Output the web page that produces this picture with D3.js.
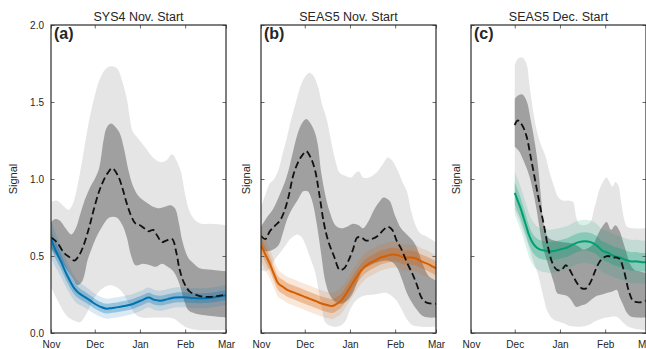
<!DOCTYPE html>
<html>
<head>
<meta charset="utf-8">
<script src="https://cdn.jsdelivr.net/npm/d3@7"></script>
<style>
  body { margin: 0; background: #fff; }
  svg { display: block; }
  text { font-family: "Liberation Sans", Arial, sans-serif; fill: #262626; }
</style>
</head>
<body>
<svg id="chart" width="646" height="349"></svg>
<script>
// ---- Panel labels, titles, ticks ----
const titles = ["SYS4 Nov. Start", "SEAS5 Nov. Start", "SEAS5 Dec. Start"];
const panelTags = ["(a)", "(b)", "(c)"];
const yTicks = [0.0, 0.5, 1.0, 1.5, 2.0];
const yLabel = "Signal";

// ---- Observed signal (day since 1 Nov, value): mean, inner band, outer band ----
const obsMeanA = [[0,0.62],[4,0.59],[9,0.52],[13,0.49],[16,0.47],[19,0.50],[22,0.56],[26,0.68],[29,0.79],[33,0.92],[36,0.99],[39,1.04],[42,1.07],[46,1.02],[49,0.94],[52,0.84],[55,0.76],[58,0.71],[61,0.70],[64,0.68],[67,0.66],[70,0.67],[73,0.63],[76,0.59],[79,0.60],[83,0.61],[86,0.52],[88,0.42],[91,0.33],[95,0.27],[99,0.25],[104,0.236],[109,0.235],[114,0.24],[117,0.245],[120,0.25]];
const obsInnerHiA = [[0,0.72],[3,0.74],[6,0.73],[10,0.68],[14,0.64],[17,0.68],[20,0.77],[23,0.86],[27,0.95],[30,1.0],[33,1.07],[36,1.25],[38,1.33],[41,1.36],[44,1.34],[47,1.30],[50,1.20],[53,1.06],[56,0.96],[60,0.89],[65,0.85],[70,0.82],[74,0.81],[78,0.82],[82,0.83],[85,0.81],[88,0.70],[90,0.60],[94,0.49],[98,0.45],[102,0.42],[110,0.41],[120,0.40]];
const obsInnerLoA = [[0,0.55],[4,0.50],[8,0.45],[11,0.41],[15,0.35],[18,0.31],[21,0.33],[23,0.38],[25,0.47],[28,0.55],[31,0.62],[35,0.69],[40,0.75],[45,0.75],[49,0.70],[52,0.62],[55,0.50],[58,0.44],[63,0.45],[68,0.44],[72,0.43],[76,0.45],[80,0.43],[84,0.40],[88,0.32],[91,0.22],[94,0.15],[98,0.13],[102,0.12],[110,0.11],[120,0.10]];
const obsOuterHiA = [[0,0.85],[4,0.86],[8,0.83],[12,0.80],[15,0.84],[18,0.95],[21,1.10],[24,1.27],[27,1.42],[30,1.54],[33,1.64],[37,1.71],[40,1.73],[43,1.73],[46,1.71],[49,1.63],[52,1.52],[54,1.40],[56,1.31],[60,1.26],[65,1.20],[70,1.14],[75,1.11],[79,1.12],[83,1.16],[86,1.12],[89,1.05],[92,0.90],[95,0.79],[99,0.73],[103,0.71],[110,0.71],[120,0.70]];
const obsOuterLoA = [[0,0.30],[4,0.22],[8,0.15],[12,0.10],[16,0.08],[20,0.07],[24,0.12],[28,0.20],[32,0.26],[37,0.30],[41,0.31],[46,0.29],[50,0.25],[54,0.18],[58,0.12],[62,0.10],[70,0.10],[80,0.10],[85,0.09],[89,0.06],[93,0.035],[100,0.02],[120,0.02]];

const obsMeanB = [[0,0.63],[3,0.61],[6,0.66],[10,0.70],[13,0.73],[16,0.79],[19,0.89],[22,1.02],[25,1.10],[28,1.15],[31,1.18],[34,1.14],[37,1.06],[40,0.90],[43,0.72],[46,0.60],[50,0.50],[54,0.41],[57,0.42],[60,0.47],[63,0.54],[66,0.62],[69,0.62],[72,0.60],[76,0.61],[80,0.63],[84,0.67],[87,0.69],[90,0.67],[93,0.60],[96,0.55],[100,0.46],[104,0.38],[107,0.31],[110,0.23],[113,0.20],[117,0.19],[120,0.19]];
const obsInnerHiB = [[0,0.69],[4,0.75],[8,0.80],[12,0.88],[16,0.97],[19,1.06],[22,1.18],[25,1.29],[28,1.36],[31,1.39],[34,1.36],[37,1.30],[39,1.22],[41,1.06],[44,0.90],[47,0.79],[51,0.70],[55,0.68],[59,0.69],[63,0.71],[67,0.70],[70,0.68],[74,0.73],[77,0.79],[81,0.85],[84,0.88],[88,0.86],[92,0.76],[96,0.68],[100,0.64],[104,0.60],[107,0.55],[110,0.47],[113,0.40],[116,0.36],[120,0.34]];
const obsInnerLoB = [[0,0.54],[4,0.53],[8,0.54],[12,0.57],[15,0.65],[18,0.74],[21,0.80],[25,0.86],[29,0.92],[32,0.92],[35,0.86],[38,0.72],[41,0.53],[44,0.34],[47,0.25],[50,0.21],[55,0.19],[59,0.21],[63,0.26],[66,0.33],[70,0.41],[75,0.44],[80,0.46],[86,0.47],[90,0.46],[93,0.43],[97,0.34],[100,0.26],[104,0.19],[107,0.15],[111,0.11],[115,0.10],[120,0.10]];
const obsOuterHiB = [[0,0.82],[3,0.90],[6,0.97],[9,1.0],[12,1.06],[15,1.17],[18,1.28],[21,1.40],[24,1.50],[27,1.60],[30,1.66],[33,1.69],[36,1.67],[39,1.60],[42,1.48],[45,1.39],[48,1.25],[51,1.12],[54,1.04],[58,1.02],[62,1.01],[65,1.04],[67,1.05],[70,1.01],[74,1.01],[79,1.04],[83,1.09],[87,1.14],[90,1.12],[94,1.05],[97,0.98],[100,0.92],[103,0.79],[106,0.70],[109,0.65],[113,0.63],[120,0.59]];
const obsOuterLoB = [[0,0.41],[3,0.40],[6,0.42],[9,0.47],[13,0.52],[17,0.57],[20,0.61],[25,0.64],[28,0.62],[31,0.56],[34,0.48],[37,0.40],[40,0.25],[42,0.15],[44,0.07],[48,0.045],[52,0.04],[55,0.05],[58,0.08],[61,0.15],[65,0.21],[70,0.24],[78,0.25],[86,0.26],[92,0.22],[96,0.16],[100,0.09],[104,0.05],[110,0.04],[120,0.04]];

const obsMeanC = [[30,1.35],[32,1.38],[35,1.35],[38,1.28],[41,1.14],[44,0.99],[47,0.84],[50,0.70],[53,0.55],[56,0.45],[59,0.41],[62,0.41],[65,0.44],[67,0.42],[70,0.37],[73,0.32],[76,0.29],[79,0.29],[82,0.33],[85,0.40],[88,0.46],[91,0.49],[94,0.50],[97,0.49],[100,0.49],[102,0.48],[105,0.40],[108,0.28],[111,0.21],[114,0.20],[117,0.20],[120,0.21]];
const obsInnerHiC = [[30,1.52],[32,1.54],[35,1.55],[38,1.51],[41,1.38],[44,1.22],[46,1.08],[48,0.88],[50,0.70],[53,0.62],[57,0.60],[63,0.59],[70,0.58],[74,0.56],[77,0.54],[80,0.55],[84,0.58],[87,0.64],[90,0.69],[93,0.72],[96,0.67],[99,0.70],[102,0.66],[104,0.60],[106,0.54],[109,0.45],[112,0.41],[116,0.40],[120,0.39]];
const obsInnerLoC = [[30,1.21],[33,1.18],[36,1.12],[40,1.02],[43,0.90],[45,0.80],[47,0.68],[49,0.57],[52,0.47],[54,0.41],[57,0.32],[59,0.26],[62,0.25],[66,0.24],[69,0.21],[72,0.17],[76,0.18],[79,0.19],[83,0.22],[86,0.24],[90,0.25],[93,0.26],[97,0.27],[100,0.28],[102,0.23],[104,0.19],[107,0.13],[110,0.105],[114,0.10],[120,0.10]];
const obsOuterHiC = [[30,1.74],[32,1.78],[35,1.79],[38,1.75],[40,1.62],[42,1.48],[45,1.32],[48,1.22],[51,1.15],[54,1.04],[57,0.95],[60,0.88],[63,0.86],[67,0.86],[70,0.85],[72,0.76],[74,0.71],[78,0.70],[82,0.72],[84,0.79],[86,0.86],[88,0.93],[91,0.99],[93,1.01],[95,0.98],[97,0.95],[99,0.98],[101,0.96],[103,0.85],[105,0.74],[107,0.69],[112,0.68],[120,0.68]];
const obsOuterLoC = [[30,0.80],[33,0.74],[36,0.66],[40,0.55],[43,0.46],[46,0.38],[48,0.30],[50,0.22],[52,0.15],[55,0.10],[57,0.085],[63,0.065],[68,0.045],[74,0.04],[80,0.05],[86,0.08],[93,0.10],[100,0.105],[104,0.07],[108,0.04],[114,0.025],[120,0.02]];

// ---- Model ensemble signal: days, mean, half-widths of inner and outer bands ----
const modelDaysA = [0,3,7,11,16,19,23,27,30,34,38,42,46,50,55,59,63,67,71,75,80,85,90,96,102,108,114,120];
const modelMeanA = [0.61,0.54,0.46,0.375,0.29,0.26,0.235,0.21,0.19,0.17,0.158,0.163,0.168,0.175,0.185,0.20,0.215,0.23,0.215,0.21,0.22,0.23,0.232,0.228,0.225,0.228,0.235,0.245];
const modelInnerA = [0.06,0.055,0.05,0.045,0.04,0.036,0.034,0.033,0.033,0.032,0.032,0.032,0.032,0.032,0.032,0.032,0.032,0.032,0.032,0.032,0.032,0.032,0.032,0.032,0.032,0.032,0.032,0.032];
const modelOuterA = [0.12,0.11,0.10,0.09,0.08,0.075,0.07,0.068,0.066,0.065,0.065,0.065,0.065,0.065,0.065,0.065,0.065,0.065,0.065,0.065,0.065,0.065,0.065,0.065,0.065,0.065,0.065,0.065];

const modelDaysB = [0,3,6,9,12,15,18,22,26,30,34,38,42,46,49,52,55,58,62,66,70,74,78,82,86,90,94,98,102,106,110,114,117,120];
const modelMeanB = [0.57,0.51,0.45,0.38,0.32,0.30,0.28,0.265,0.25,0.235,0.22,0.205,0.19,0.18,0.175,0.19,0.21,0.25,0.31,0.37,0.42,0.45,0.47,0.49,0.50,0.51,0.505,0.49,0.49,0.485,0.465,0.45,0.435,0.42];
const modelInnerB = [0.05,0.05,0.048,0.046,0.045,0.045,0.045,0.045,0.045,0.045,0.045,0.045,0.045,0.045,0.045,0.045,0.045,0.045,0.045,0.045,0.045,0.045,0.045,0.045,0.045,0.045,0.045,0.045,0.045,0.045,0.045,0.045,0.045,0.045];
const modelOuterB = [0.10,0.10,0.095,0.09,0.088,0.085,0.085,0.085,0.085,0.085,0.085,0.085,0.085,0.085,0.085,0.085,0.085,0.085,0.085,0.085,0.085,0.085,0.085,0.085,0.085,0.085,0.085,0.085,0.085,0.085,0.085,0.085,0.085,0.085];

const modelDaysC = [30,32,34,36,38,40,42,45,48,51,54,58,62,66,70,74,78,82,86,90,94,98,102,106,110,114,117,120];
const modelMeanC = [0.91,0.86,0.81,0.75,0.69,0.63,0.59,0.555,0.54,0.535,0.53,0.535,0.545,0.555,0.575,0.59,0.595,0.59,0.57,0.535,0.52,0.50,0.49,0.475,0.465,0.465,0.46,0.46];
const modelInnerC = [0.07,0.07,0.068,0.066,0.064,0.062,0.06,0.06,0.06,0.06,0.06,0.06,0.06,0.06,0.06,0.06,0.06,0.06,0.06,0.06,0.06,0.06,0.06,0.06,0.06,0.06,0.06,0.06];
const modelOuterC = [0.14,0.14,0.14,0.14,0.14,0.14,0.14,0.14,0.14,0.14,0.14,0.14,0.14,0.14,0.14,0.14,0.14,0.14,0.14,0.14,0.14,0.14,0.14,0.14,0.14,0.14,0.14,0.14];

const modelColors = ["#0072B2", "#D55E00", "#009E73"];

// ---- Layout ----
const panelLeft = [51, 261, 471];
const panelTop = 25, panelW = 175, panelH = 308;

const panels = [
  { obs: [obsMeanA, obsInnerHiA, obsInnerLoA, obsOuterHiA, obsOuterLoA], days: modelDaysA, mean: modelMeanA, inner: modelInnerA, outer: modelOuterA },
  { obs: [obsMeanB, obsInnerHiB, obsInnerLoB, obsOuterHiB, obsOuterLoB], days: modelDaysB, mean: modelMeanB, inner: modelInnerB, outer: modelOuterB },
  { obs: [obsMeanC, obsInnerHiC, obsInnerLoC, obsOuterHiC, obsOuterLoC], days: modelDaysC, mean: modelMeanC, inner: modelInnerC, outer: modelOuterC }
];

const origin = Date.UTC(2000, 10, 1);
const toDate = d => new Date(origin + d * 864e5);

const x = d3.scaleUtc().domain([toDate(0), toDate(120)]).range([0, panelW]);
const y = d3.scaleLinear().domain([0, 2]).range([panelH, 0]);

const line = d3.line()
  .x(p => x(toDate(p[0])))
  .y(p => y(p[1]))
  .curve(d3.curveCatmullRom.alpha(0.5));

function bandPath(hi, lo) {
  return line(hi) + "L" + line(lo.slice().reverse()).slice(1) + "Z";
}

const svg = d3.select("#chart");

panels.forEach((p, i) => {
  const g = svg.append("g").attr("transform", `translate(${panelLeft[i]},${panelTop})`);

  g.append("clipPath").attr("id", "clip" + i)
    .append("rect").attr("width", panelW).attr("height", panelH);

  const plot = g.append("g").attr("clip-path", `url(#clip${i})`);
  const [oMean, oInHi, oInLo, oOutHi, oOutLo] = p.obs;

  // observed spread
  plot.append("path").attr("d", bandPath(oOutHi, oOutLo)).attr("fill", "#000").attr("fill-opacity", 0.1);
  plot.append("path").attr("d", bandPath(oInHi, oInLo)).attr("fill", "#000").attr("fill-opacity", 0.3);

  // model spread
  const hiOuter = p.days.map((d, k) => [d, p.mean[k] + p.outer[k]]);
  const loOuter = p.days.map((d, k) => [d, p.mean[k] - p.outer[k]]);
  const hiInner = p.days.map((d, k) => [d, p.mean[k] + p.inner[k]]);
  const loInner = p.days.map((d, k) => [d, p.mean[k] - p.inner[k]]);
  const col = modelColors[i];
  plot.append("path").attr("d", bandPath(hiOuter, loOuter)).attr("fill", col).attr("fill-opacity", 0.15);
  plot.append("path").attr("d", bandPath(hiInner, loInner)).attr("fill", col).attr("fill-opacity", 0.3);

  // model mean
  plot.append("path").attr("d", line(p.days.map((d, k) => [d, p.mean[k]])))
    .attr("fill", "none").attr("stroke", col).attr("stroke-width", 2);

  // observed mean
  plot.append("path").attr("d", line(oMean))
    .attr("fill", "none").attr("stroke", "#111").attr("stroke-width", 1.8)
    .attr("stroke-dasharray", "7,3.5");

  // axes (inward ticks on all sides)
  const monthTicks = d3.utcMonth.every(1);
  const bottom = d3.axisBottom(x).ticks(monthTicks).tickFormat(d3.utcFormat("%b"))
    .tickSizeInner(-3.5).tickSizeOuter(0).tickPadding(8);
  const top = d3.axisTop(x).ticks(monthTicks).tickFormat("").tickSizeInner(-3.5).tickSizeOuter(0);
  const left = d3.axisLeft(y).tickValues(yTicks)
    .tickFormat(i === 0 ? d3.format(".1f") : "").tickSizeInner(-3.5).tickSizeOuter(0).tickPadding(7);
  const right = d3.axisRight(y).tickValues(yTicks).tickFormat("").tickSizeInner(-3.5).tickSizeOuter(0);

  const axes = [
    g.append("g").attr("transform", `translate(0,${panelH})`).call(bottom),
    g.append("g").call(top),
    g.append("g").call(left),
    g.append("g").attr("transform", `translate(${panelW},0)`).call(right)
  ];
  axes.forEach(a => {
    a.select(".domain").remove();
    a.selectAll(".tick line").attr("stroke", "#444").attr("stroke-width", 0.8);
    a.selectAll(".tick text").attr("font-size", 10).attr("fill", "#262626")
      .style("font-family", '"Liberation Sans", Arial, sans-serif');
  });

  // frame
  g.append("rect").attr("width", panelW).attr("height", panelH)
    .attr("fill", "none").attr("stroke", "#2a2a2a").attr("stroke-width", 1.2);

  // title
  g.append("text").attr("x", panelW / 2).attr("y", -4.5)
    .attr("text-anchor", "middle").attr("font-size", 12.5).text(titles[i]);

  // panel tag
  g.append("text").attr("x", 3).attr("y", 13.5)
    .attr("font-size", 16).attr("font-weight", "bold").attr("fill", "#000").text(panelTags[i]);

  // y label
  const yl = i === 0 ? -34 : -11;
  g.append("text").attr("transform", `translate(${yl},${panelH / 2}) rotate(-90)`)
    .attr("text-anchor", "middle").attr("font-size", 11).text(yLabel);
});
</script>
</body>
</html>
